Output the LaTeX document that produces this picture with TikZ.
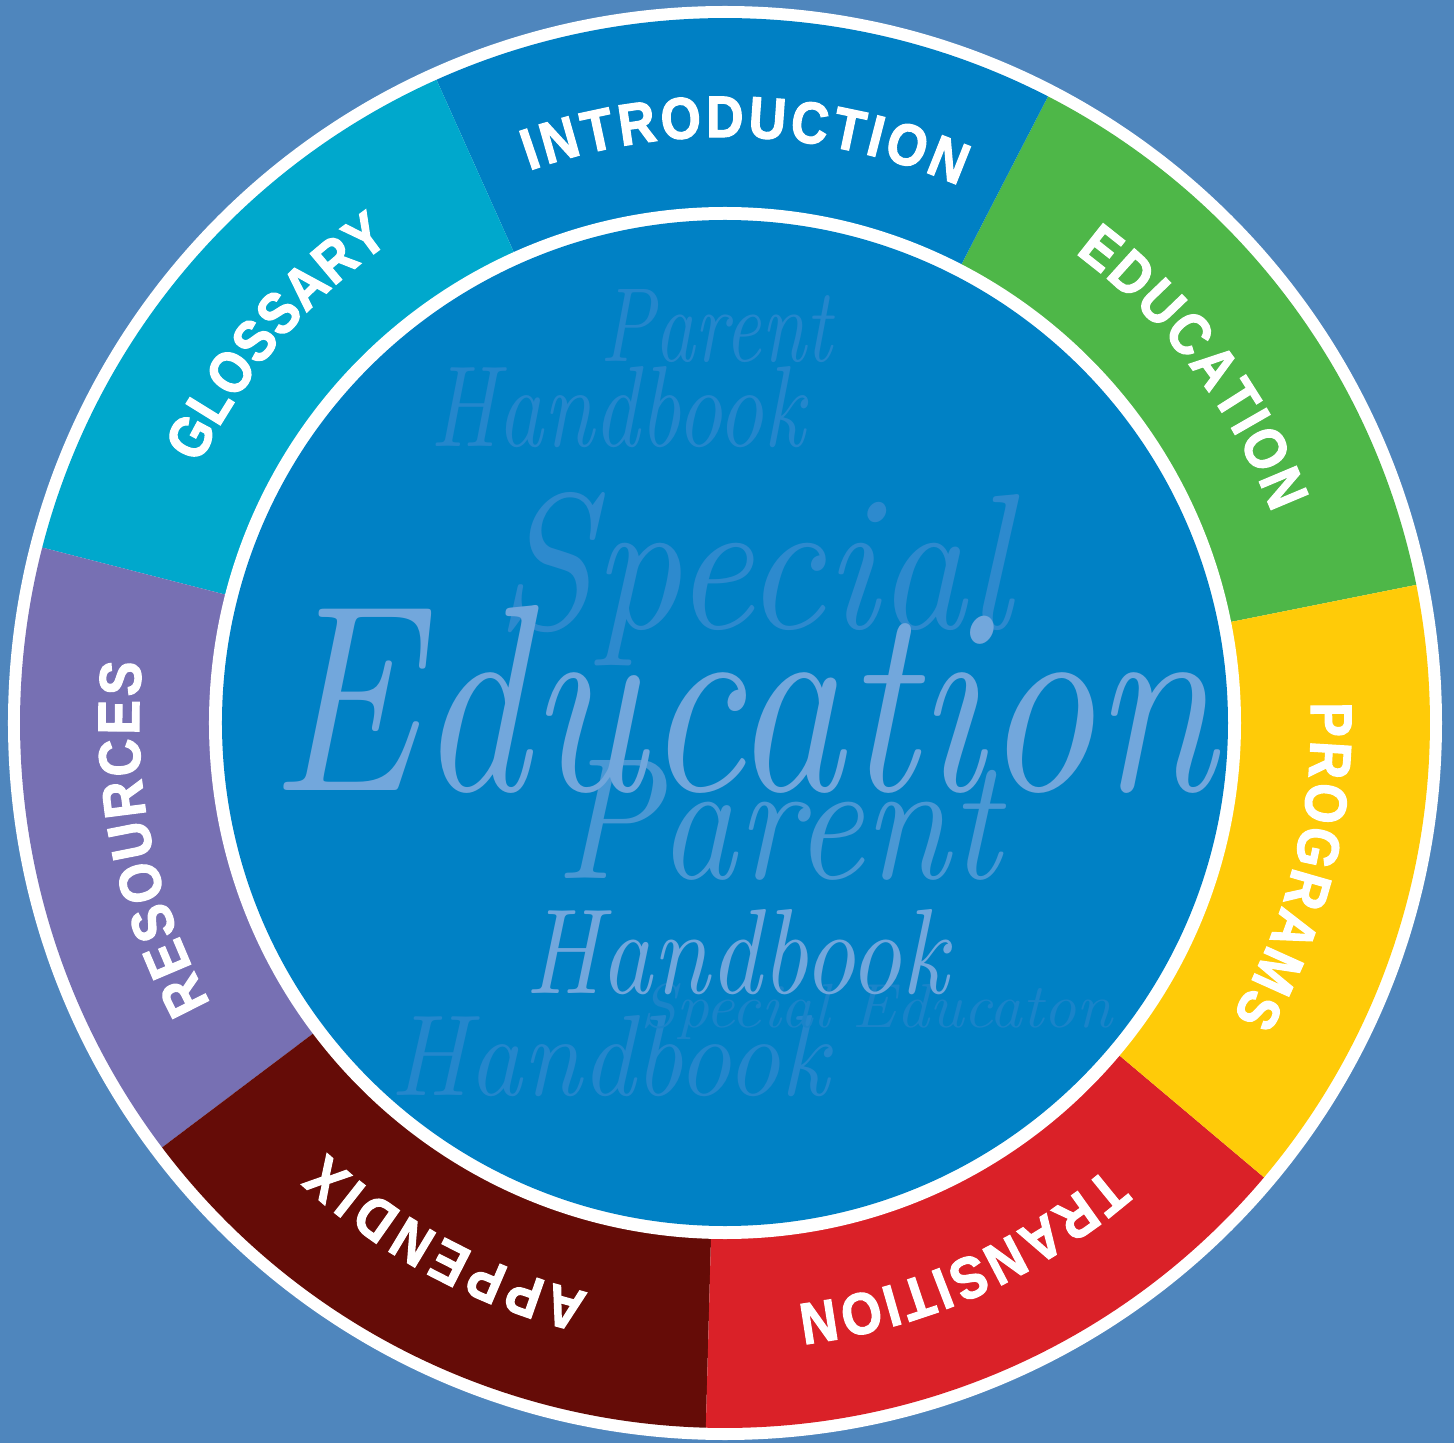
\documentclass[tikz,border=0pt]{standalone}
\usepackage{fontspec}
\usepackage{graphicx}
\usetikzlibrary{decorations.text}

% lettering of the seven ring sections
\newfontfamily\ringfont[FakeStretch=0.88,FakeBold=2]{Liberation Sans Bold}
\newcommand\labfont{\ringfont\fontsize{58.6}{60}\selectfont}

\definecolor{pagebg}{RGB}{79,134,189}
\definecolor{innerblue}{RGB}{0,129,197}
\definecolor{segIntro}{RGB}{0,128,196}
\definecolor{segGloss}{RGB}{0,168,204}
\definecolor{segEdu}{RGB}{78,183,72}
\definecolor{segProg}{RGB}{255,203,8}
\definecolor{segTrans}{RGB}{218,33,40}
\definecolor{segApp}{RGB}{101,12,7}
\definecolor{segRes}{RGB}{119,112,179}
% watermark tints, from strongest to faintest
\definecolor{wmA}{RGB}{114,167,220}
\definecolor{wmB}{RGB}{74,152,212}
\definecolor{wmC}{RGB}{45,138,206}
\definecolor{wmD}{RGB}{36,135,204}
\definecolor{wmE}{RGB}{26,132,201}

\begin{document}
\begin{tikzpicture}[x=1pt,y=1pt,
  ringlabel/.style={decorate, decoration={text along path,
      text align=fit to path, text color=white, text={|\labfont|#1}}},
  wm/.style={inner sep=0pt, anchor=base west, text=#1, font=\itshape}]

\useasboundingbox (-725,-720) rectangle (729,723);
\fill[pagebg] (-725,-720) rectangle (729,723);

% outer white rim
\fill[white] (0,0) circle[radius=717];

% seven equal sections, counter-clockwise from Education
\foreach \c [count=\i from 0] in {segEdu,segIntro,segGloss,segRes,segApp,segTrans,segProg}{
  \pgfmathsetmacro\a{11.3+\i*360/7}
  \pgfmathsetmacro\b{\a+360/7}
  \fill[\c] (0,0) -- (\a:705) arc[start angle=\a, end angle=\b, radius=705] -- cycle;
}

% inner white ring and centre disc
\fill[white] (0,0) circle[radius=516];
\fill[innerblue] (0,0) circle[radius=503];

% script watermark in the centre disc
\begin{scope}
  \clip (0,0) circle[radius=503];
  \node[wm=wmD] (parentTop) at (-125,361) {\resizebox{232pt}{72pt}{Parent}};
  \node[wm=wmD] (handbookTop) at (-295,276) {\resizebox{375pt}{80pt}{Handbook}};
  \node[wm=wmD] (handbookLow) at (-335,-372) {\resizebox{438pt}{80pt}{Handbook}};
  \node[wm=wmE] (specialSmall) at (-85,-304) {\resizebox{472pt}{44pt}{Special Educaton}};
  \node[wm=wmC] (special) at (-230,95) {\resizebox{515pt}{136pt}{Special}};
  \node[wm=wmB] (parentMid) at (-170,-155) {\resizebox{445pt}{118pt}{Parent}};
  \node[wm=wmA] (education) at (-455,-67) {\resizebox{945pt}{185pt}{Education}};
  \node[wm=wmA] (handbookMid) at (-200,-270) {\resizebox{423pt}{84pt}{Handbook}};
\end{scope}

% section titles, set clockwise along the ring
\path[ringlabel=INTRODUCTION] (109.5:586) arc[start angle=109.5, end angle=66.5, radius=586];
\path[ringlabel=EDUCATION] (53.3:586) arc[start angle=53.3, end angle=21.0, radius=586];
\path[ringlabel=PROGRAMS] (2.0:586) arc[start angle=2.0, end angle=-30.0, radius=586];
\path[ringlabel=TRANSITION] (-49.3:586) arc[start angle=-49.3, end angle=-82.9, radius=586];
\path[ringlabel=APPENDIX] (256.5:586) arc[start angle=256.5, end angle=227.2, radius=586];
\path[ringlabel=RESOURCES] (208.6:586) arc[start angle=208.6, end angle=174.1, radius=586];
\path[ringlabel=GLOSSARY] (153.8:586) arc[start angle=153.8, end angle=124.8, radius=586];

\end{tikzpicture}
\end{document}
